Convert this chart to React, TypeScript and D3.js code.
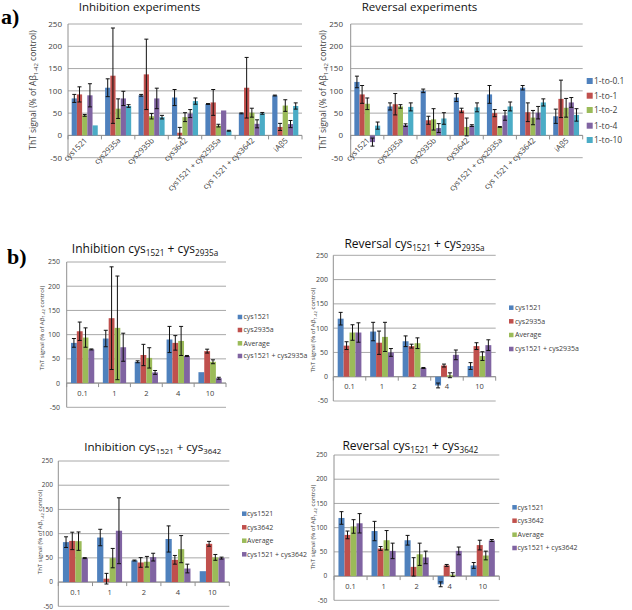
import React from "react";
import * as d3 from "d3";

const COLORS = ["#4F81BD", "#C0504D", "#9BBB59", "#8064A2", "#4BACC6"];
const yTicks = [-50, 0, 50, 100, 150, 200, 250];

// ---- Panel a ----
const aCategories = ["cys1521", "cys2935a", "cys2935b", "cys3642", "cys1521 + cys2935a", "cys 1521 + cys3642", "iAβ5"];
const aSeriesNames = ["1-to-0.1", "1-to-1", "1-to-2", "1-to-4", "1-to-10"];

const inhibMeans = [
  [83, 107, 90, 85, 70.5, 49.5, 89.5],
  [92, 134, 137, 6, 74, 107, 19],
  [45, 60, 43, 41, 22, 51, 67],
  [90, 83, 83, 49, 56, 26, 25.5],
  [22.5, 66, 41, 77, 10.5, 49.5, 66],
];
const inhibErrors = [
  [9, 20, 2, 18, 1, 1, 1],
  [17, 107, 79, 12, 29, 68, 8],
  [2, 22, 6, 10, 3, 10, 13],
  [26, 16, 23, 9, 0, 9, 8],
  [0, 3, 4, 7, 1, 2, 7],
];
const revMeans = [
  [120, 65, 100, 85, 92, 107, 43],
  [92, 70, 34, 56, 50, 52, 82],
  [71, 65, 36, 19, 19, 40, 62],
  [-15, 23, 16.5, 22, 45, 51, 74],
  [22, 64, 38, 63, 65, 74, 46],
];
const revErrors = [
  [13, 8, 4, 9, 20, 5, 16],
  [20, 24, 9, 5, 8, 21, 42],
  [13, 4, 24, 20, 1, 16, 21],
  [9, 3, 10, 2, 11, 14, 11],
  [8, 9, 13, 10, 10, 8, 14],
];

// ---- Panel b ----
const doses = ["0.1", "1", "2", "4", "10"];
const names2935a = ["cys1521", "cys2935a", "Average", "cys1521 + cys2935a"];
const names3642 = ["cys1521", "cys3642", "Average", "cys1521 + cys3642"];

const inhib2935aMeans = [
  [83, 92, 44, 90, 22.5],
  [107, 134, 58, 83, 66],
  [94, 114, 52, 87, 44],
  [69.5, 74, 22, 56, 10],
];
const inhib2935aErrors = [
  [9, 17, 2, 27, 0],
  [19, 106, 22, 15, 4],
  [20, 107, 21, 30, 4],
  [1, 29, 4, 1, 2],
];
const rev2935aMeans = [
  [119.5, 93, 73, -18, 22],
  [64, 70, 63, 23, 63],
  [91, 82, 69, 3, 42.5],
  [91, 50, 18, 45, 65],
];
const rev2935aErrors = [
  [13, 19, 11, 5, 7],
  [8, 24, 4, 3, 7],
  [16, 30, 11, 5, 9],
  [20, 8, 1, 10, 11],
];
const inhib3642Means = [
  [82.5, 92, 44.5, 89, 22.5],
  [85, 7, 40.5, 46, 79],
  [84.5, 49.5, 42, 68, 51],
  [49.5, 106, 51.5, 28, 49.5],
];
const inhib3642Errors = [
  [11, 17, 1, 27, 0],
  [18, 11, 10, 9, 5],
  [19, 20, 11, 28, 6],
  [1, 68, 8, 9, 2],
];
const rev3642Means = [
  [120, 93, 74, -17, 22],
  [85, 57, 19, 22, 64],
  [102.5, 74, 45, 3, 42.5],
  [109, 52, 38.5, 52, 73.5],
];
const rev3642Errors = [
  [13, 20, 10, 5, 6],
  [8, 4, 19, 2, 10],
  [14, 20, 23, 4, 9],
  [20, 16, 13, 8, 2],
];

const FONT = "'Open Sans', 'Noto Sans', sans-serif";
const TXT = "#404040";

type TitlePart = { t: string; sub?: boolean };

type PanelProps = {
  left: number; right: number; top: number; bottom: number;
  categories: string[]; names: string[]; means: number[][]; errors: number[][];
  gap: number;
  tickX: number; tickFont: number;
  yLabelX: number; yLabelY: number; yLabelFont: number;
  title: TitlePart[]; titleX: number; titleY: number; titleFont: number;
  rotated: boolean; xLabelFont: number; xLabelY: number;
  legend?: { sx: number; tx: number; ys: number[]; font: number; size: number };
};

function Panel(p: PanelProps) {
  const y = d3.scaleLinear().domain([-50, 250]).range([p.bottom, p.top]);
  const x = d3.scaleBand<string>().domain(p.categories).range([p.left, p.right]);
  const bw = x.bandwidth();
  const inner = d3
    .scaleBand<number>()
    .domain(d3.range(p.names.length))
    .range([(bw * p.gap) / 2, bw * (1 - p.gap / 2)]);
  const y0 = y(0);
  const subSize = p.titleFont * 0.68;
  const ylSub = p.yLabelFont * 0.7;
  return (
    <g>
      {yTicks.map((t) => (
        <g key={t}>
          <line x1={p.left} x2={p.right} y1={y(t)} y2={y(t)} stroke="#a8a8a8" strokeWidth={1} />
          <text x={p.tickX} y={y(t)} dy="0.35em" textAnchor="end" fontSize={p.tickFont} fill={TXT} fontFamily={FONT}>
            {t}
          </text>
        </g>
      ))}
      <line x1={p.left} x2={p.left} y1={p.top} y2={p.bottom} stroke="#909090" />
      <line x1={p.left} x2={p.right} y1={y0} y2={y0} stroke="#909090" />
      {p.categories.map((c, i) => (
        <line key={"tk" + i} x1={x(c)!} x2={x(c)!} y1={y0} y2={y0 + 4} stroke="#909090" />
      ))}
      <line x1={p.right} x2={p.right} y1={y0} y2={y0 + 4} stroke="#909090" />
      {p.means.map((ser, si) =>
        ser.map((v, ci) => {
          const cx = x(p.categories[ci])! + inner(si)!;
          const w = inner.bandwidth();
          const top = Math.min(y(v), y0);
          const h = Math.abs(y(v) - y0);
          const e = p.errors[si][ci];
          const mx = cx + w / 2;
          return (
            <g key={si + "-" + ci}>
              <rect x={cx} y={top} width={w} height={h} fill={COLORS[si]} />
              {e > 0 && (
                <g stroke="#111" strokeWidth={1}>
                  <line x1={mx} x2={mx} y1={y(v + e)} y2={y(v - e)} />
                  <line x1={mx - 2} x2={mx + 2} y1={y(v + e)} y2={y(v + e)} />
                  <line x1={mx - 2} x2={mx + 2} y1={y(v - e)} y2={y(v - e)} />
                </g>
              )}
            </g>
          );
        })
      )}
      {p.categories.map((c, i) => {
        const cx = x(c)! + bw / 2;
        return p.rotated ? (
          <text key={"xl" + i} x={cx + 3} y={p.xLabelY} textAnchor="end" fontSize={p.xLabelFont} fill={TXT} fontFamily={FONT}
            transform={`rotate(-45 ${cx + 3} ${p.xLabelY})`}>
            {c}
          </text>
        ) : (
          <text key={"xl" + i} x={cx} y={p.xLabelY} textAnchor="middle" fontSize={p.xLabelFont} fill={TXT} fontFamily={FONT}>
            {c}
          </text>
        );
      })}
      <text x={p.yLabelX} y={p.yLabelY} textAnchor="middle" fontSize={p.yLabelFont} fill={TXT} fontFamily={FONT}
        transform={`rotate(-90 ${p.yLabelX} ${p.yLabelY})`} dy="0.35em">
        ThT signal (% of Aβ
        <tspan fontSize={ylSub} dy={p.yLabelFont * 0.25}>1-42</tspan>
        <tspan dy={-p.yLabelFont * 0.25}> control)</tspan>
      </text>
      <text x={p.titleX} y={p.titleY} textAnchor="middle" fontSize={p.titleFont} fill="#111" fontFamily={FONT}>
        {p.title.map((part, i) => {
          const prevSub = i > 0 && p.title[i - 1].sub;
          const dy = part.sub ? p.titleFont * 0.25 : prevSub ? -p.titleFont * 0.25 : 0;
          return (
            <tspan key={i} dy={dy} fontSize={part.sub ? subSize : p.titleFont}>
              {part.t}
            </tspan>
          );
        })}
      </text>
      {p.legend &&
        p.names.map((n, i) => (
          <g key={"lg" + i}>
            <rect x={p.legend!.sx} y={p.legend!.ys[i] - p.legend!.size / 2} width={p.legend!.size} height={p.legend!.size} fill={COLORS[i]} />
            <text x={p.legend!.tx} y={p.legend!.ys[i]} dy="0.35em" fontSize={p.legend!.font} fill={TXT} fontFamily={FONT}>
              {n}
            </text>
          </g>
        ))}
    </g>
  );
}

export default function App() {
  return (
    <svg width={632} height={610} style={{ position: "absolute", left: 0, top: 0, background: "#fff" }}>
      <rect width={632} height={610} fill="#fff" />
      <text x={1} y={24} fontFamily="'Liberation Serif', serif" fontWeight="bold" fontSize={22}>a)</text>
      <text x={7} y={264} fontFamily="'Liberation Serif', serif" fontWeight="bold" fontSize={22}>b)</text>
      <Panel
        left={68} right={302} top={24} bottom={157.7}
        categories={aCategories} names={aSeriesNames} means={inhibMeans} errors={inhibErrors}
        gap={0.22} tickX={62} tickFont={8}
        yLabelX={33} yLabelY={90} yLabelFont={8.5}
        title={[{ t: "Inhibition experiments" }]} titleX={139.5} titleY={11} titleFont={11.5}
        rotated={true} xLabelFont={7.8} xLabelY={141}
      />
      <Panel
        left={350.7} right={582.7} top={24} bottom={157.7}
        categories={aCategories} names={aSeriesNames} means={revMeans} errors={revErrors}
        gap={0.22} tickX={343} tickFont={8}
        yLabelX={323} yLabelY={90} yLabelFont={8.5}
        title={[{ t: "Reversal experiments" }]} titleX={419.5} titleY={11} titleFont={11.5}
        rotated={true} xLabelFont={7.8} xLabelY={141}
        legend={{ sx: 586.7, tx: 594, ys: [81, 95.7, 110, 125.7, 140], font: 8.5, size: 6 }}
      />
      <Panel
        left={66.7} right={226} top={262} bottom={407.3}
        categories={doses} names={names2935a} means={inhib2935aMeans} errors={inhib2935aErrors}
        gap={0.27} tickX={60} tickFont={7}
        yLabelX={41.7} yLabelY={328} yLabelFont={6}
        title={[{ t: "Inhibition cys" }, { t: "1521", sub: true }, { t: " + cys" }, { t: "2935a", sub: true }]}
        titleX={145} titleY={252.5} titleFont={12}
        rotated={false} xLabelFont={7.5} xLabelY={396}
        legend={{ sx: 237.7, tx: 243.5, ys: [317, 330, 343.3, 356], font: 7, size: 4.5 }}
      />
      <Panel
        left={333.3} right={495.7} top={255.3} bottom={401}
        categories={doses} names={names2935a} means={rev2935aMeans} errors={rev2935aErrors}
        gap={0.27} tickX={328} tickFont={7}
        yLabelX={313} yLabelY={330} yLabelFont={6}
        title={[{ t: "Reversal  cys" }, { t: "1521", sub: true }, { t: " + cys" }, { t: "2935a", sub: true }]}
        titleX={414.5} titleY={247.5} titleFont={12}
        rotated={false} xLabelFont={7.5} xLabelY={389}
        legend={{ sx: 509, tx: 515, ys: [307.7, 321.3, 335, 349], font: 7, size: 4.5 }}
      />
      <Panel
        left={58.3} right={229.3} top={461} bottom={606.3}
        categories={doses} names={names3642} means={inhib3642Means} errors={inhib3642Errors}
        gap={0.27} tickX={53} tickFont={6.5}
        yLabelX={40} yLabelY={532} yLabelFont={6}
        title={[{ t: "Inhibition cys" }, { t: "1521", sub: true }, { t: " + cys" }, { t: "3642", sub: true }]}
        titleX={152.7} titleY={451} titleFont={11.6}
        rotated={false} xLabelFont={7.5} xLabelY={595}
        legend={{ sx: 242, tx: 247, ys: [513.7, 527.3, 540.7, 554.3], font: 7, size: 4.5 }}
      />
      <Panel
        left={334} right={499.3} top={455} bottom={600.3}
        categories={doses} names={names3642} means={rev3642Means} errors={rev3642Errors}
        gap={0.27} tickX={327.3} tickFont={6.5}
        yLabelX={313} yLabelY={527} yLabelFont={6}
        title={[{ t: "Reversal cys" }, { t: "1521", sub: true }, { t: " + cys" }, { t: "3642", sub: true }]}
        titleX={410.3} titleY={449.5} titleFont={12}
        rotated={false} xLabelFont={7.5} xLabelY={589}
        legend={{ sx: 512.3, tx: 517.5, ys: [507.3, 520.7, 534.7, 548], font: 7, size: 4.5 }}
      />
    </svg>
  );
}
